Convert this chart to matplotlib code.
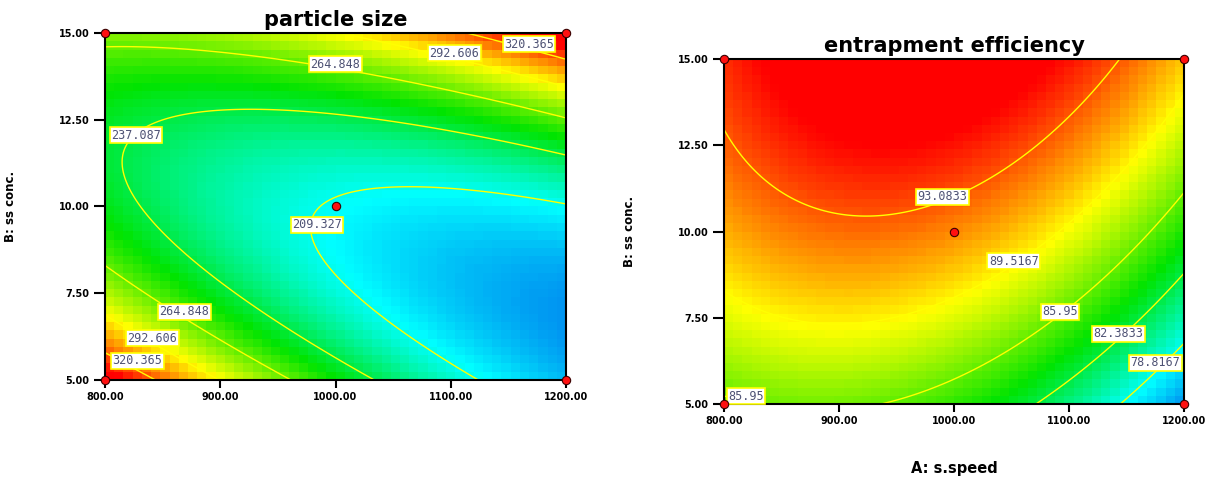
import matplotlib
matplotlib.use("Agg")
import matplotlib.pyplot as plt
import numpy as np
from matplotlib.colors import LinearSegmentedColormap, Normalize

# factor ranges and ticks
speed_ticks = [800, 900, 1000, 1100, 1200]
conc_ticks = [5.0, 7.5, 10.0, 12.5, 15.0]

# design points shown as red dots (factorial corners + centre)
design_speed = [800, 800, 1200, 1200, 1000]
design_conc = [5, 15, 5, 15, 10]

# quadratic models in coded terms: intercept, A, B, AB, A^2, B^2
size_coef = [208.0, -18.55, 21.3, 57.7, 18.7, 62.7]
ee_coef = [91.95, -3.4, 5.87, 1.73, -4.25, -1.33]

size_levels = [209.327, 237.087, 264.848, 292.606, 320.365]
ee_levels = [78.8167, 82.3833, 85.95, 89.5167, 93.0833]

CMAP = LinearSegmentedColormap.from_list(
    "design_expert",
    [(0.0, "#008cf0"), (0.15, "#00ffff"), (0.4, "#00e400"), (0.66, "#ffff00"),
     (0.8, "#ff7800"), (0.92, "#ff0000"), (1.0, "#ff0000")],
)


def response(coef, speed, conc):
    a = (np.asarray(speed) - 1000.0) / 200.0
    b = (np.asarray(conc) - 10.0) / 5.0
    b0, ba, bb, bab, baa, bbb = coef
    return b0 + ba * a + bb * b + bab * a * b + baa * a ** 2 + bbb * b ** 2


def draw_panel(ax, coef, levels, title, label_spots, ylabel_x, xlabel=None):
    step = levels[1] - levels[0]
    norm = Normalize(levels[0] - step, levels[-1] + step)

    # coarse cells like the Design-Expert bitmap
    xe = np.linspace(speed_ticks[0], speed_ticks[-1], 51)
    ye = np.linspace(conc_ticks[0], conc_ticks[-1], 43)
    xc = (xe[:-1] + xe[1:]) / 2
    yc = (ye[:-1] + ye[1:]) / 2
    gx, gy = np.meshgrid(xc, yc)
    ax.pcolormesh(xe, ye, response(coef, gx, gy), cmap=CMAP, norm=norm, shading="flat")

    fx, fy = np.meshgrid(np.linspace(800, 1200, 300), np.linspace(5, 15, 300))
    ax.contour(fx, fy, response(coef, fx, fy), levels=levels, colors="#ffff00", linewidths=1.0)

    for x, y, i in label_spots:
        ax.text(x, y, f"{levels[i]:g}", ha="center", va="center", fontsize=8.5,
                family="DejaVu Sans Mono", color="#4e5274", zorder=6,
                bbox=dict(boxstyle="square,pad=0.12", fc="white", ec="#ffff00", lw=1.2))

    ax.plot(design_speed, design_conc, "o", ms=6, mfc="#ff1010", mec="#3a0000",
            mew=0.8, clip_on=False, zorder=7)

    ax.set_xlim(speed_ticks[0], speed_ticks[-1])
    ax.set_ylim(conc_ticks[0], conc_ticks[-1])
    ax.set_xticks(speed_ticks)
    ax.set_xticklabels([f"{v:.2f}" for v in speed_ticks])
    ax.set_yticks(conc_ticks)
    ax.set_yticklabels([f"{v:.2f}" for v in conc_ticks])
    for lab in ax.get_xticklabels() + ax.get_yticklabels():
        lab.set_fontweight("bold")
        lab.set_fontsize(7)
    ax.tick_params(axis="x", length=6, width=1.5, pad=3)
    ax.tick_params(axis="y", length=8, width=1.5, pad=3)
    for sp in ax.spines.values():
        sp.set_linewidth(1.5)
    ax.set_title(title, fontsize=15, fontweight="bold", pad=5)
    ax.set_ylabel("B: ss conc.", fontsize=8.5, fontweight="bold")
    ax.yaxis.set_label_coords(ylabel_x, 0.5)
    if xlabel:
        ax.set_xlabel(xlabel, fontsize=10.5, fontweight="bold", va="center")
        ax.xaxis.set_label_coords(0.5, -64 / 345)


fig = plt.figure(figsize=(12.14, 4.78), dpi=100)
ax1 = fig.add_axes([105 / 1214, 1 - 380 / 478, 461 / 1214, 347 / 478])
ax2 = fig.add_axes([724 / 1214, 1 - 404 / 478, 460 / 1214, 345 / 478])

draw_panel(
    ax1, size_coef, size_levels, "particle size",
    [(984, 9.47, 0), (827, 12.06, 1), (1000, 14.1, 2), (869, 6.96, 2),
     (1103, 14.42, 3), (841, 6.2, 3), (1168, 14.68, 4), (828, 5.55, 4)],
    -88 / 461,
)
draw_panel(
    ax2, ee_coef, ee_levels, "entrapment efficiency",
    [(990, 11.0, 4), (1052, 9.14, 3), (1092, 7.67, 2), (819, 5.23, 2),
     (1143, 7.03, 1), (1175, 6.19, 0)],
    -88 / 460, xlabel="A: s.speed",
)

fig.savefig("out.png", dpi=100)
